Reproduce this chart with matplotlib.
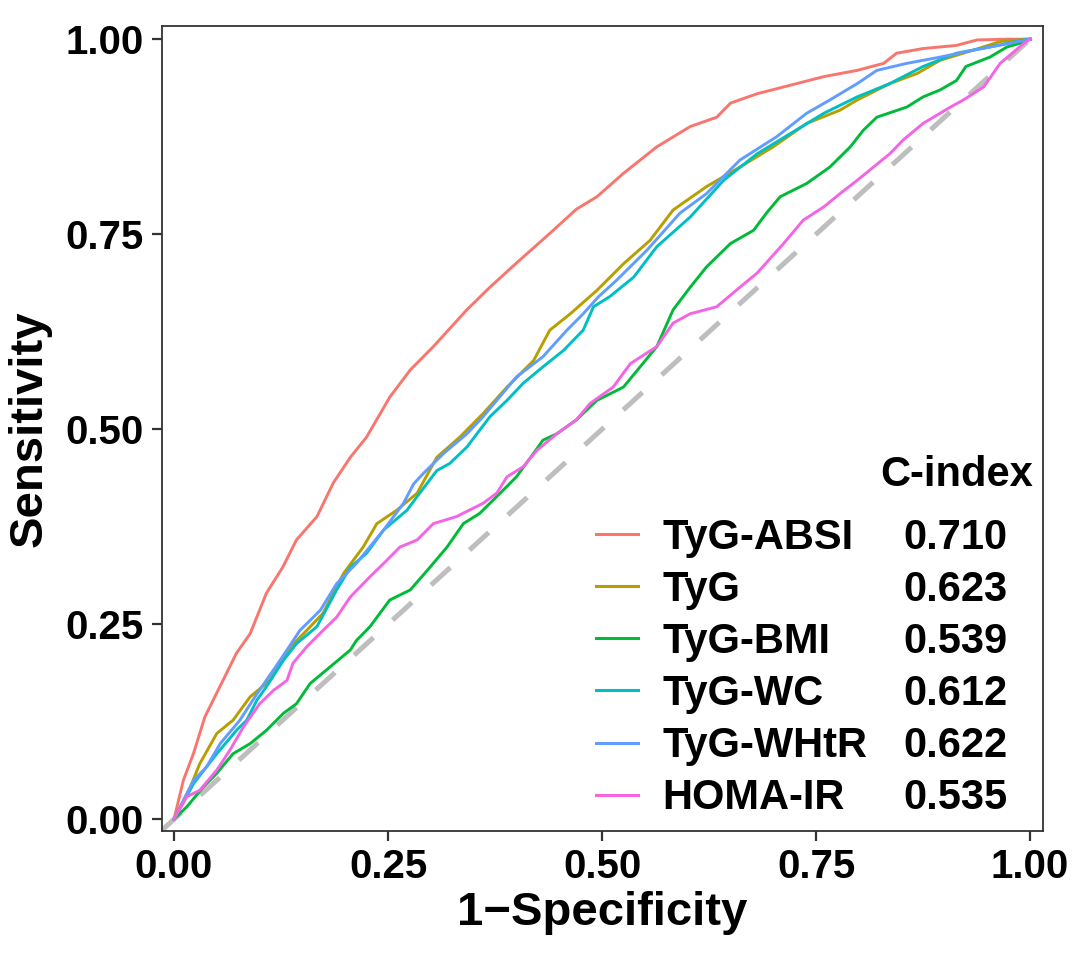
import matplotlib
matplotlib.use('Agg')
import matplotlib.pyplot as plt

plt.rcParams['font.family'] = ['Liberation Sans', 'DejaVu Sans']
plt.rcParams['font.weight'] = 'bold'

# curve points (1-specificity, sensitivity)
absi_x = [0, 0.011, 0.023, 0.036, 0.050, 0.073, 0.089, 0.108, 0.127, 0.143, 0.167, 0.186,
          0.206, 0.225, 0.252, 0.276, 0.303, 0.342, 0.369, 0.400, 0.439, 0.470, 0.494,
          0.525, 0.564, 0.603, 0.634, 0.650, 0.681, 0.720, 0.759, 0.798, 0.829, 0.844,
          0.875, 0.914, 0.938, 0.973, 0.996, 1]
absi_y = [0, 0.050, 0.085, 0.131, 0.162, 0.213, 0.238, 0.290, 0.323, 0.358, 0.388, 0.431,
          0.464, 0.490, 0.541, 0.576, 0.606, 0.653, 0.682, 0.713, 0.751, 0.782, 0.798,
          0.828, 0.862, 0.888, 0.900, 0.918, 0.930, 0.941, 0.952, 0.960, 0.969, 0.982,
          0.988, 0.992, 0.999, 1.0, 1.0, 1]

tyg_x = [0, 0.019, 0.030, 0.050, 0.069, 0.089, 0.112, 0.136, 0.155, 0.174, 0.198, 0.221,
         0.237, 0.260, 0.284, 0.307, 0.334, 0.361, 0.389, 0.420, 0.439, 0.463, 0.494,
         0.525, 0.556, 0.583, 0.622, 0.661, 0.700, 0.739, 0.778, 0.798, 0.836, 0.868,
         0.895, 0.934, 0.965, 0.996, 1]
tyg_y = [0, 0.041, 0.071, 0.110, 0.127, 0.157, 0.178, 0.221, 0.242, 0.264, 0.315, 0.349,
         0.379, 0.396, 0.418, 0.464, 0.490, 0.520, 0.554, 0.588, 0.627, 0.648, 0.678,
         0.712, 0.742, 0.781, 0.811, 0.836, 0.862, 0.892, 0.909, 0.922, 0.943, 0.956,
         0.973, 0.986, 0.997, 1.0, 1]

bmi_x = [0, 0.015, 0.034, 0.050, 0.069, 0.089, 0.108, 0.128, 0.143, 0.159, 0.182, 0.206,
         0.213, 0.229, 0.252, 0.276, 0.299, 0.319, 0.338, 0.357, 0.381, 0.400, 0.420,
         0.431, 0.447, 0.470, 0.494, 0.525, 0.564, 0.583, 0.603, 0.622, 0.650, 0.677,
         0.692, 0.708, 0.739, 0.766, 0.790, 0.805, 0.821, 0.856, 0.875, 0.895, 0.914,
         0.925, 0.953, 0.973, 0.992, 1]
bmi_y = [0, 0.016, 0.041, 0.059, 0.084, 0.097, 0.114, 0.136, 0.148, 0.174, 0.195, 0.217,
         0.229, 0.247, 0.281, 0.294, 0.323, 0.349, 0.379, 0.392, 0.418, 0.439, 0.469,
         0.486, 0.494, 0.512, 0.537, 0.554, 0.606, 0.653, 0.682, 0.708, 0.738, 0.755,
         0.777, 0.798, 0.815, 0.836, 0.862, 0.883, 0.900, 0.913, 0.926, 0.935, 0.947,
         0.965, 0.977, 0.990, 0.996, 1]

wc_x = [0, 0.023, 0.050, 0.073, 0.085, 0.097, 0.108, 0.128, 0.143, 0.167, 0.190, 0.206,
        0.225, 0.245, 0.272, 0.287, 0.307, 0.322, 0.342, 0.369, 0.389, 0.408, 0.431,
        0.455, 0.478, 0.490, 0.509, 0.537, 0.564, 0.603, 0.642, 0.681, 0.720, 0.759,
        0.798, 0.836, 0.875, 0.914, 0.953, 0.992, 1]
wc_y = [0, 0.046, 0.084, 0.114, 0.127, 0.153, 0.170, 0.204, 0.225, 0.247, 0.294, 0.323,
        0.341, 0.371, 0.396, 0.418, 0.447, 0.456, 0.477, 0.516, 0.537, 0.559, 0.580,
        0.601, 0.627, 0.657, 0.670, 0.695, 0.734, 0.772, 0.819, 0.853, 0.879, 0.905,
        0.926, 0.943, 0.965, 0.982, 0.990, 0.999, 1]

whtr_x = [0, 0.023, 0.038, 0.054, 0.077, 0.097, 0.116, 0.132, 0.147, 0.171, 0.190, 0.213,
          0.245, 0.268, 0.280, 0.291, 0.315, 0.342, 0.361, 0.400, 0.431, 0.459, 0.478,
          0.496, 0.517, 0.552, 0.591, 0.622, 0.661, 0.704, 0.739, 0.766, 0.798, 0.821,
          0.856, 0.895, 0.934, 0.973, 1]
whtr_y = [0, 0.050, 0.067, 0.097, 0.127, 0.161, 0.191, 0.217, 0.242, 0.268, 0.302, 0.328,
          0.371, 0.405, 0.430, 0.443, 0.469, 0.494, 0.516, 0.567, 0.593, 0.627, 0.648,
          0.670, 0.691, 0.729, 0.777, 0.802, 0.845, 0.875, 0.905, 0.922, 0.943, 0.960,
          0.969, 0.977, 0.986, 0.994, 1]

homa_x = [0, 0.015, 0.030, 0.050, 0.065, 0.081, 0.100, 0.116, 0.132, 0.139, 0.155, 0.174,
          0.190, 0.206, 0.229, 0.245, 0.264, 0.284, 0.303, 0.330, 0.361, 0.377, 0.389,
          0.408, 0.424, 0.447, 0.470, 0.486, 0.513, 0.533, 0.564, 0.583, 0.603, 0.634,
          0.661, 0.681, 0.712, 0.735, 0.759, 0.778, 0.798, 0.817, 0.836, 0.852, 0.875,
          0.907, 0.922, 0.946, 0.965, 0.992, 1]
homa_y = [0, 0.029, 0.037, 0.063, 0.088, 0.118, 0.148, 0.165, 0.178, 0.200, 0.221, 0.242,
          0.259, 0.285, 0.311, 0.328, 0.349, 0.358, 0.379, 0.388, 0.405, 0.418, 0.439,
          0.452, 0.473, 0.494, 0.512, 0.533, 0.554, 0.584, 0.606, 0.636, 0.648, 0.657,
          0.682, 0.700, 0.738, 0.768, 0.785, 0.802, 0.819, 0.836, 0.853, 0.871, 0.892,
          0.913, 0.922, 0.939, 0.969, 0.994, 1]

names = ['TyG-ABSI', 'TyG', 'TyG-BMI', 'TyG-WC', 'TyG-WHtR', 'HOMA-IR']
c_index = ['0.710', '0.623', '0.539', '0.612', '0.622', '0.535']
colors = ['#F8766D', '#B79F00', '#00BA38', '#00BFC4', '#619CFF', '#F564E3']
curves = [(absi_x, absi_y), (tyg_x, tyg_y), (bmi_x, bmi_y),
          (wc_x, wc_y), (whtr_x, whtr_y), (homa_x, homa_y)]

ticks = [0, 0.25, 0.5, 0.75, 1.0]
tick_labels = ['0.00', '0.25', '0.50', '0.75', '1.00']

fig = plt.figure(figsize=(10.8, 9.56), dpi=100)
ax = fig.add_axes([0.15, 0.1308, 0.8157, 0.8421])

# reference diagonal
ax.axline((0, 0), (1, 1), color='#BEBEBE', lw=3.6, linestyle=(0, (5.2, 5.2)), zorder=1)

lines = []
for (xs, ys), name, col in zip(curves, names, colors):
    ln, = ax.plot(xs, ys, color=col, lw=2.1, label=name, zorder=2)
    lines.append(ln)

ax.set_xlim(-0.014, 1.015)
ax.set_ylim(-0.015, 1.017)
ax.set_xticks(ticks)
ax.set_xticklabels(tick_labels)
ax.set_yticks(ticks)
ax.set_yticklabels(tick_labels)
ax.tick_params(axis='both', labelsize=29, color='#333333', length=7, width=1.6,
               labelcolor='black')
ax.tick_params(axis='x', pad=5)
ax.tick_params(axis='y', pad=6)
for sp in ax.spines.values():
    sp.set_color('#333333')
    sp.set_linewidth(1.3)

ax.set_xlabel('1\u2212Specificity', fontsize=34, fontweight='bold', labelpad=4)
ax.set_ylabel('Sensitivity', fontsize=34, fontweight='bold', labelpad=10)

leg = ax.legend(handles=lines, labels=names, loc='upper left',
                bbox_to_anchor=(0.493, 0.389), frameon=False,
                prop={'size': 30, 'weight': 'bold'}, handlelength=1.0,
                handletextpad=0.58, labelspacing=0.29, borderpad=0, borderaxespad=0)
for h in leg.get_lines():
    h.set_linewidth(2.2)

# C-index column next to the legend rows
fig.canvas.draw()
inv = ax.transAxes.inverted()
for txt, val in zip(leg.get_texts(), c_index):
    bb = txt.get_window_extent()
    yc = inv.transform(((bb.x0 + bb.x1) / 2, (bb.y0 + bb.y1) / 2))[1]
    ax.text(0.841, yc, val, transform=ax.transAxes, fontsize=30, fontweight='bold',
            va='center', ha='left')
ax.text(0.989, 0.442, 'C-index', transform=ax.transAxes, fontsize=30,
        fontweight='bold', va='center', ha='right')

fig.savefig('out.png', dpi=100)
